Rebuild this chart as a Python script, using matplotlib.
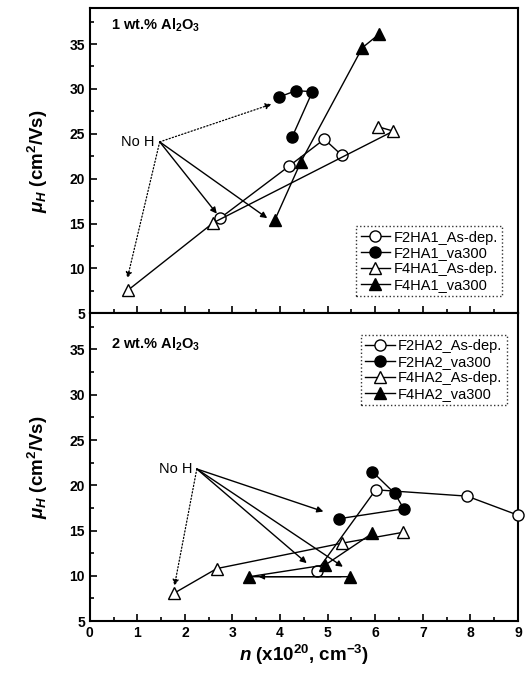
import numpy as np
import matplotlib
matplotlib.use("Agg")
import matplotlib.pyplot as plt
from matplotlib.ticker import MultipleLocator

plt.rcParams['font.family'] = ['Liberation Sans', 'DejaVu Sans']
plt.rcParams['mathtext.fontset'] = 'custom'
plt.rcParams['mathtext.rm'] = 'Liberation Sans:bold'
plt.rcParams['mathtext.it'] = 'Liberation Sans:italic:bold'
plt.rcParams['mathtext.bf'] = 'Liberation Sans:bold'

# ---- data: 1 wt.% Al2O3 ----
labels_1 = ["F2HA1_As-dep.", "F2HA1_va300", "F4HA1_As-dep.", "F4HA1_va300"]
n_f2ha1_asdep = [2.74, 4.19, 4.93, 5.30]
mu_f2ha1_asdep = [15.6, 21.4, 24.4, 22.6]
n_f2ha1_va300 = [3.98, 4.33, 4.68, 4.25]
mu_f2ha1_va300 = [29.1, 29.8, 29.7, 24.6]
n_f4ha1_asdep = [0.81, 2.60, 6.38, 6.05]
mu_f4ha1_asdep = [7.6, 15.1, 25.3, 25.8]
n_f4ha1_va300 = [3.89, 4.44, 5.73, 6.08]
mu_f4ha1_va300 = [15.4, 21.9, 34.6, 36.1]
noh_1 = (1.47, 24.1)
arrows_1 = [((3.82, 28.3), ':'), ((0.79, 8.9), ':'), ((2.67, 16.1), '-'), ((3.73, 15.6), '-')]

# ---- data: 2 wt.% Al2O3 ----
labels_2 = ["F2HA2_As-dep.", "F2HA2_va300", "F4HA2_As-dep.", "F4HA2_va300"]
n_f2ha2_asdep = [4.77, 6.01, 7.93, 9.0]
mu_f2ha2_asdep = [10.5, 19.5, 18.8, 16.7]
n_f2ha2_va300 = [5.94, 6.41, 6.60, 5.23]
mu_f2ha2_va300 = [21.5, 19.1, 17.4, 16.3]
n_f4ha2_asdep = [1.78, 2.67, 5.30, 6.58]
mu_f4ha2_asdep = [8.1, 10.8, 13.6, 14.8]
n_f4ha2_va300 = [5.48, 3.35, 4.95, 5.94]
mu_f4ha2_va300 = [9.9, 9.9, 11.2, 14.7]
noh_2 = (2.25, 21.8)
arrows_2 = [((1.78, 8.9), ':'), ((4.91, 17.1), '-'), ((4.56, 11.4), '-'), ((5.32, 11.0), '-')]

styles = [dict(marker='o', mfc='white'), dict(marker='o', mfc='black'),
          dict(marker='^', mfc='white'), dict(marker='^', mfc='black')]

fig = plt.figure(figsize=(5.28, 6.81), dpi=100)
ax1 = fig.add_axes([0.170, 0.540, 0.811, 0.448])
ax2 = fig.add_axes([0.170, 0.088, 0.811, 0.452], sharex=ax1)


def draw_panel(ax, series, labels, noh, arrows, title, title_y, legend_loc, legend_anchor):
    for (xs, ys), lab, st in zip(series, labels, styles):
        ax.plot(xs, ys, color='black', lw=1.0, ms=8, mec='black', mew=1.0,
                label=lab, clip_on=False, zorder=3, **st)
    for (tx, ty), ls in arrows:
        ax.annotate('', xy=(tx, ty), xytext=noh,
                    arrowprops=dict(arrowstyle='-|>', color='black', lw=1.0 if ls == '-' else 0.9,
                                    linestyle=ls, mutation_scale=9, shrinkA=0, shrinkB=0))
    ax.text(noh[0] - 0.1, noh[1], 'No H', ha='right', va='center', fontsize=10.5)
    ax.text(0.05, title_y, title, transform=ax.transAxes, fontsize=10.5,
            fontweight='bold', va='center')
    ax.set_xlim(0, 9)
    ax.set_ylim(5, 39)
    ax.xaxis.set_major_locator(MultipleLocator(1))
    ax.xaxis.set_minor_locator(MultipleLocator(0.5))
    ax.yaxis.set_major_locator(MultipleLocator(5))
    ax.yaxis.set_minor_locator(MultipleLocator(2.5))
    ax.tick_params(which='both', direction='in', top=False, right=False, width=1.2)
    ax.tick_params(which='major', length=5)
    ax.tick_params(which='minor', length=3)
    for lab in ax.get_yticklabels() + ax.get_xticklabels():
        lab.set_fontweight('bold')
        lab.set_fontsize(10)
    for sp in ax.spines.values():
        sp.set_linewidth(1.5)
    ax.set_ylabel(r'$\mu_H$ (cm$^2$/Vs)', fontsize=13.5, fontweight='bold', labelpad=14)
    leg = ax.legend(loc=legend_loc, bbox_to_anchor=legend_anchor, fontsize=10.5,
                    handlelength=2.0, handletextpad=0.25, labelspacing=0.12,
                    borderpad=0.3, borderaxespad=0.0, frameon=True, fancybox=False,
                    markerscale=1.0)
    leg.get_frame().set_edgecolor('black')
    leg.get_frame().set_linestyle(':')
    leg.get_frame().set_linewidth(1.0)


draw_panel(ax1,
           [(n_f2ha1_asdep, mu_f2ha1_asdep), (n_f2ha1_va300, mu_f2ha1_va300),
            (n_f4ha1_asdep, mu_f4ha1_asdep), (n_f4ha1_va300, mu_f4ha1_va300)],
           labels_1, noh_1, arrows_1, r'1 wt.% Al$_2$O$_3$', 0.944,
           'lower right', (0.963, 0.056))
draw_panel(ax2,
           [(n_f2ha2_asdep, mu_f2ha2_asdep), (n_f2ha2_va300, mu_f2ha2_va300),
            (n_f4ha2_asdep, mu_f4ha2_asdep), (n_f4ha2_va300, mu_f4ha2_va300)],
           labels_2, noh_2, arrows_2, r'2 wt.% Al$_2$O$_3$', 0.90,
           'upper right', (0.974, 0.929))

# small leftward arrowhead on the 2 wt.% va300 horizontal segment
ax2.annotate('', xy=(n_f4ha2_va300[1] + 0.2, mu_f4ha2_va300[1]),
             xytext=(n_f4ha2_va300[0] - 0.2, mu_f4ha2_va300[0]),
             arrowprops=dict(arrowstyle='-|>', color='black', lw=0.9,
                             mutation_scale=8, shrinkA=0, shrinkB=0))

plt.setp(ax1.get_xticklabels(), visible=False)
ax2.set_xlabel(r'$n$ (x10$^{20}$, cm$^{-3}$)', fontsize=13.5, fontweight='bold', labelpad=2)

fig.savefig('out.png', dpi=100)
